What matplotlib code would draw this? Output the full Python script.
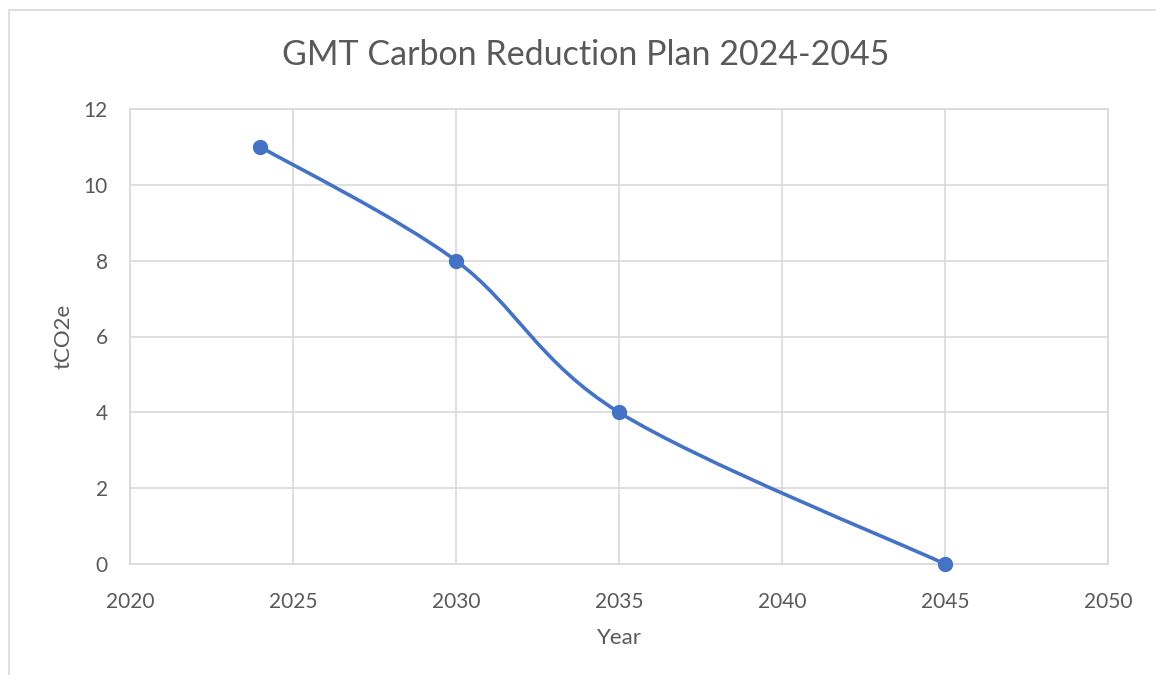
import numpy as np
import matplotlib.pyplot as plt
from matplotlib.path import Path
from matplotlib.patches import PathPatch, Rectangle

# data
years = [2024, 2030, 2035, 2045]
tco2e = [11, 8, 4, 0]
xticks = [2020, 2025, 2030, 2035, 2040, 2045, 2050]
yticks = [0, 2, 4, 6, 8, 10, 12]

blue = '#4472C4'
grey = '#595959'
gridc = '#D9D9D9'

plt.rcParams['font.family'] = ['Lato', 'DejaVu Sans']

fig = plt.figure(figsize=(11.56, 6.75), dpi=100)
ax = fig.add_axes([130 / 1156, 1 - 564 / 675, (1108 - 130) / 1156, (564 - 109) / 675])

# chart-area border (Excel style)
fig.patches.append(Rectangle((9 / 1156, -0.1), 1.2, 1 - 10 / 675 + 0.1,
                             transform=fig.transFigure, fill=False,
                             edgecolor=gridc, lw=1.2))

# smoothed line, Catmull-Rom style bezier like Excel's "smoothed line"
x = np.array(years, dtype=float)
y = np.array(tco2e, dtype=float)
px = np.concatenate([[x[0]], x, [x[-1]]])
py = np.concatenate([[y[0]], y, [y[-1]]])
verts = [(x[0], y[0])]
codes = [Path.MOVETO]
for i in range(1, len(x)):
    p0 = np.array([px[i - 1], py[i - 1]])
    p1 = np.array([px[i], py[i]])
    p2 = np.array([px[i + 1], py[i + 1]])
    p3 = np.array([px[i + 2], py[i + 2]])
    c1 = p1 + (p2 - p0) / 6
    c2 = p2 - (p3 - p1) / 6
    verts += [tuple(c1), tuple(c2), tuple(p2)]
    codes += [Path.CURVE4] * 3
ax.add_patch(PathPatch(Path(verts, codes), fill=False, edgecolor=blue,
                       lw=2.6, capstyle='round', zorder=3))
ax.plot(years, tco2e, 'o', color=blue, markersize=10, zorder=4, clip_on=False)

ax.set_xlim(2020, 2050)
ax.set_ylim(0, 12)
ax.set_xticks(xticks)
ax.set_yticks(yticks)
ax.grid(True, color=gridc, lw=1.2)
ax.set_axisbelow(True)
for s in ax.spines.values():
    s.set_color(gridc)
    s.set_linewidth(1.2)
ax.tick_params(length=0, labelsize=15, colors=grey)
ax.tick_params(axis='x', pad=20)
ax.tick_params(axis='y', pad=16)

ax.set_xlabel('Year', fontsize=16, color=grey, labelpad=12)
ax.set_ylabel('tCO2e', fontsize=16, color=grey, labelpad=7)
fig.text(0.5 * (287 + 884) / 1156, 1 - 55 / 675, 'GMT Carbon Reduction Plan 2024-2045',
         ha='center', va='center', fontsize=24.5, color=grey)

plt.savefig('out.png', dpi=100)
